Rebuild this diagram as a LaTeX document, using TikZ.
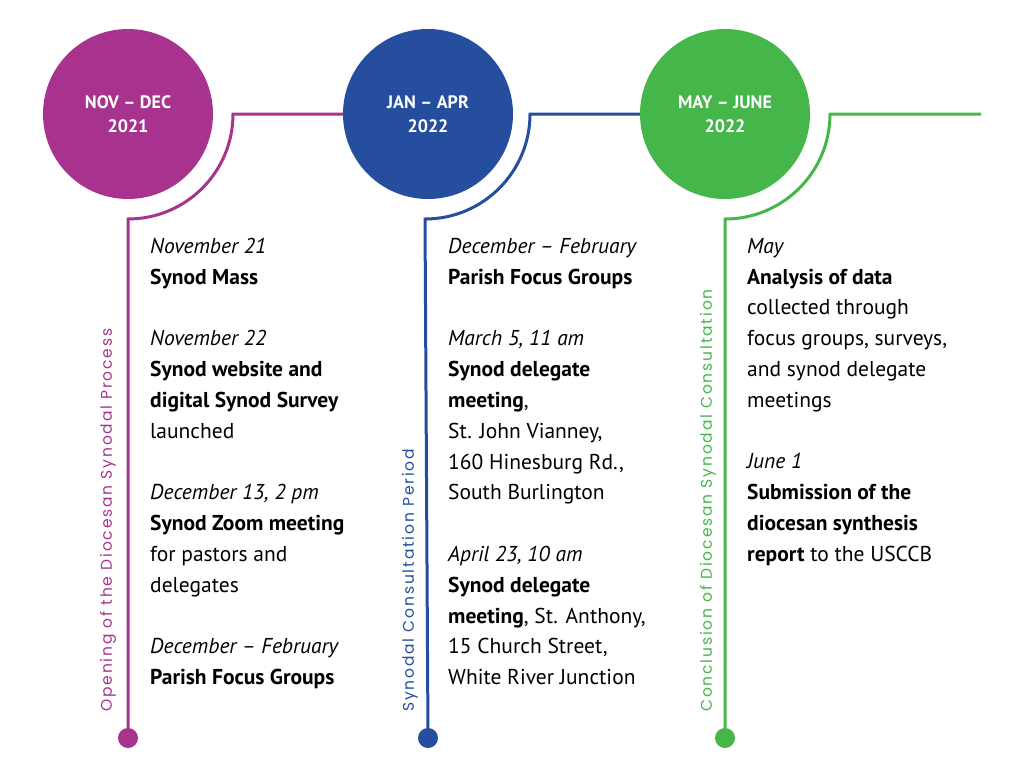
\documentclass[tikz,border=0pt]{standalone}
\usepackage{fontspec}
\setmainfont{PT Sans}
\newfontfamily\sidefont[LetterSpace=12]{Poppins}
\definecolor{cpur}{HTML}{A8338F}
\definecolor{cblu}{HTML}{254E9F}
\definecolor{cgrn}{HTML}{45B649}
\begin{document}
\begin{tikzpicture}[x=1pt,y=-1pt,
  disc/.style={circle,fill=#1,minimum size=170pt,inner sep=0,text=white,font=\bfseries\fontsize{18}{24}\selectfont,align=center},
  dotn/.style={circle,fill=#1,minimum size=20pt,inner sep=0},
  tl/.style={line width=3pt,draw=#1},
  col/.style={anchor=north west,inner sep=0,align=left,font=\fontsize{21.5}{30.8}\selectfont},
  side/.style={rotate=90,anchor=west,inner sep=0,text=#1,font=\sidefont\fontsize{15.5}{18}\selectfont}]
\useasboundingbox (0,0) rectangle (1024,768);
\fill[white] (0,0) rectangle (1024,768);
\coordinate (a1) at (233,114); \coordinate (a2) at (530,114); \coordinate (a3) at (830,114);
\coordinate (w2) at (350,114); \coordinate (w3) at (647,114);
\coordinate (e3) at (981,114);
\node[dotn=cpur] (d1) at (128,738) {};
\node[dotn=cblu] (d2) at (428,738) {};
\node[dotn=cgrn] (d3) at (725,738) {};
\draw[tl=cpur] (w2) -- (a1) arc[start angle=0,end angle=90,radius=105] -- (d1.center);
\draw[tl=cblu] (w3) -- (a2) arc[start angle=0,end angle=90,radius=105] -- (d2.center);
\draw[tl=cgrn] (e3) -- (a3) arc[start angle=0,end angle=90,radius=105] -- (d3.center);
\node[disc=cpur] (c1) at (128,114) {NOV -- DEC\\2021};
\node[disc=cblu] (c2) at (428,114) {JAN -- APR\\2022};
\node[disc=cgrn] (c3) at (725,114) {MAY -- JUNE\\2022};
\node[side=cpur] (s1) at (108,712) {Opening of the Diocesan Synodal Process};
\node[side=cblu] (s2) at (410,712) {Synodal Consultation Period};
\node[side=cgrn] (s3) at (708,712) {Conclusion of Diocesan Synodal Consultation};
\node[col] (t1) at (150,238) {\itshape November 21\\\textbf{Synod Mass}\\[30.8pt]
\itshape November 22\\\textbf{Synod website and}\\\textbf{digital Synod Survey}\\launched\\[30.8pt]
\itshape December 13, 2 pm\\\textbf{Synod Zoom meeting}\\for pastors and\\delegates\\[30.8pt]
\itshape December -- February\\\textbf{Parish Focus Groups}};
\node[col] (t2) at (448,238) {\itshape December -- February\\\textbf{Parish Focus Groups}\\[30.8pt]
\itshape March 5, 11 am\\\textbf{Synod delegate}\\\textbf{meeting},\\St. John Vianney,\\160 Hinesburg Rd.,\\South Burlington\\[30.8pt]
\itshape April 23, 10 am\\\textbf{Synod delegate}\\\textbf{meeting}, St. Anthony,\\15 Church Street,\\White River Junction};
\node[col] (t3) at (747,238) {\itshape May\\\textbf{Analysis of data}\\collected through\\focus groups, surveys,\\and synod delegate\\meetings\\[30.8pt]
\itshape June 1\\\textbf{Submission of the}\\\textbf{diocesan synthesis}\\\textbf{report} to the USCCB};
\end{tikzpicture}
\end{document}
